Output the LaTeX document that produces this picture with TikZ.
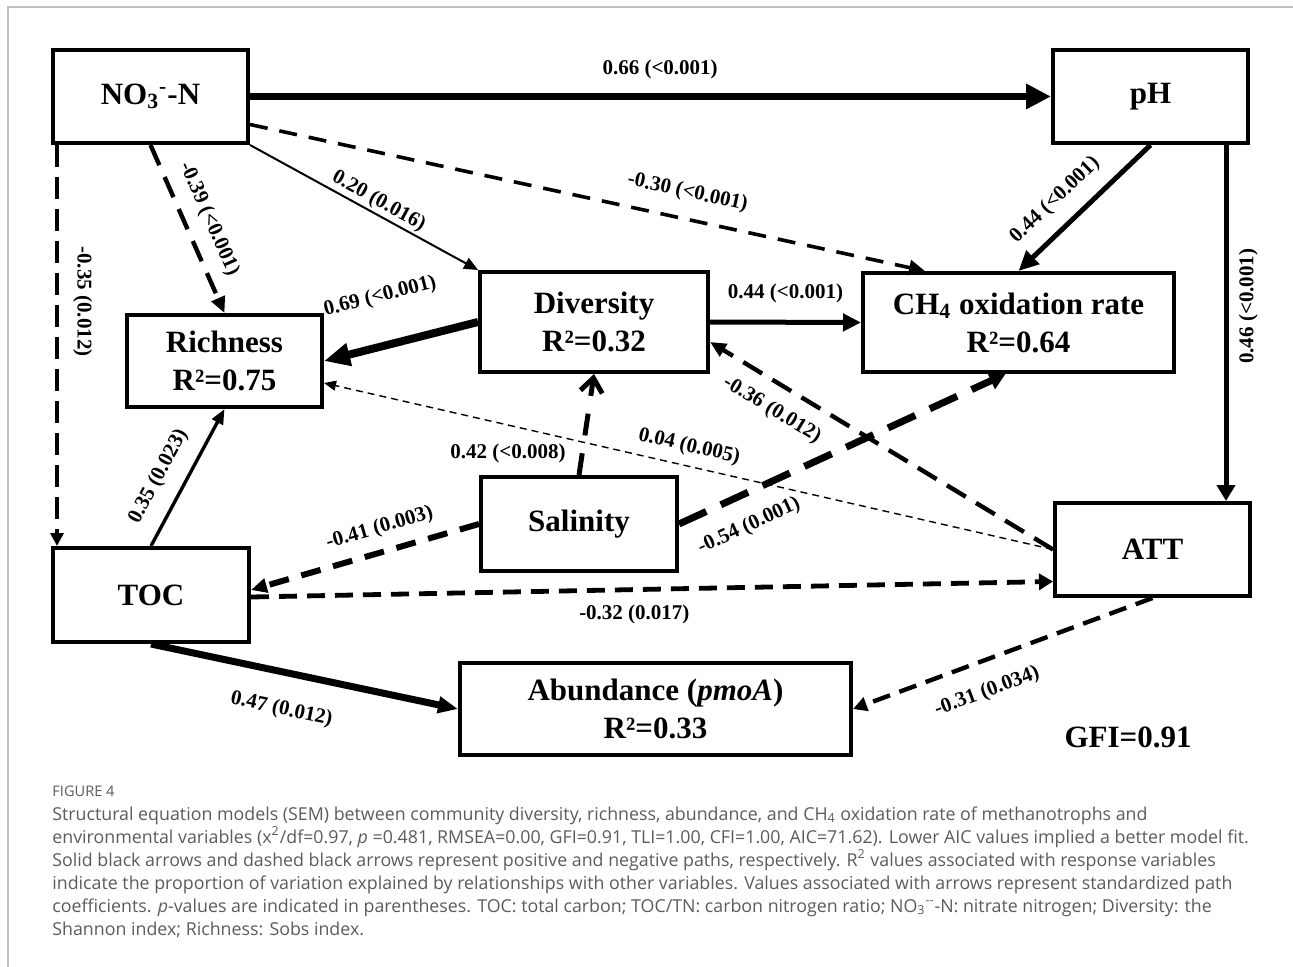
\documentclass[tikz,border=0pt]{standalone}
\usepackage{fontspec}
\setmainfont{Liberation Serif}
\newfontfamily\capfont{Open Sans}
\usetikzlibrary{arrows.meta,calc,positioning}
\definecolor{semInk}{HTML}{000000}
\definecolor{semCap}{HTML}{5B5B5B}
\definecolor{semFrame}{HTML}{C2C2C2}
\tikzset{
 sem/.style={x=.5pt,y=-.5pt,line join=miter,text=semInk},
 var/.style={rectangle,draw=semInk,fill=white,line width=2pt,inner sep=0pt,align=center,
   font=\fontsize{15.5}{19}\selectfont\bfseries,minimum width=97.5pt,minimum height=46.5pt},
 coef/.style={font=\fontsize{10.5}{12}\selectfont\bfseries,inner sep=0pt},
 solidpath/.style={draw=semInk,line width=#1},
 dashpath/.style n args={3}{draw=semInk,line width=#1,dash pattern=on #2 off #3},
 tipto/.style 2 args={-{Triangle[length=#1,width=#2]}},
 tipfrom/.style 2 args={{Triangle[length=#1,width=#2]}-},
 captext/.style={font=\capfont\fontsize{8.9}{11}\selectfont,text=semCap,anchor=base west,inner sep=0pt}
}
\begin{document}
\begin{tikzpicture}[sem]
 \useasboundingbox (0,0) rectangle (1293,967);
 \draw[semFrame,line width=1pt] (8,967) |- (1293,7);
 % variables
 \node[var] (no3) at (150.5,96.5) {NO\textsubscript{3}\textsuperscript{-}-N};
 \node[var] (ph) at (1150.5,96.5) {pH};
 \node[var,minimum height=46pt] (rich) at (224.5,361) {Richness\\R²=0.75};
 \node[var,minimum width=114pt,minimum height=50pt] (div) at (594,322) {Diversity\\R²=0.32};
 \node[var,minimum width=155.5pt,minimum height=49.5pt] (ch4) at (1018.5,322.5) {CH\textsubscript{4} oxidation rate\\R²=0.64};
 \node[var,minimum width=98pt,minimum height=47pt] (sal) at (579,524) {Salinity};
 \node[var] (att) at (1152.5,549.5) {ATT};
 \node[var,minimum width=98pt,minimum height=47pt] (toc) at (151,595) {TOC};
 \node[var,minimum width=195.5pt,minimum height=46pt] (abun) at (655.5,709) {Abundance (\textit{pmoA})\\R²=0.33};
 \node[font=\fontsize{15.5}{19}\selectfont\bfseries] (gfi) at (1128,737) {GFI=0.91};
 % paths from NO3-N
 \draw[solidpath=3.5pt,tipto={12.5pt}{12pt}] (no3.east) -- node[coef,pos=.512,above=7pt] (c1) {0.66 (<0.001)} (ph.west);
 \draw[dashpath={1.8pt}{9pt}{6pt},tipto={8pt}{7.5pt}] ($(no3.east)+(0,28)$) -- node[coef,sloped,pos=.64,above=7.5pt] (c2) {-0.30 (<0.001)} ($(ch4.north west)+(64,0)$);
 \draw[solidpath=1pt,tipto={7pt}{6pt}] (no3.south east) -- node[coef,sloped,pos=.538,above=1pt] (c3) {0.20 (0.016)} (div.north west);
 \draw[dashpath={2.2pt}{11pt}{6.5pt},tipto={8pt}{7pt}] (no3.south) -- node[coef,sloped,pos=.497,above=6pt] (c4) {-0.39 (<0.001)} (rich.north);
 \draw[dashpath={2.2pt}{11pt}{5pt},tipto={6.5pt}{6.5pt}] ($(no3.south west)+(6,0)$) -- node[coef,sloped,pos=.39,above=7pt] (c5) {-0.35 (0.012)} ($(toc.north west)+(6,0)$);
 % paths from pH
 \draw[solidpath=2.5pt,tipto={10pt}{9pt}] (ph.south) -- node[coef,sloped,pos=.587,above=7pt] (c6) {0.44 (<0.001)} (ch4.north);
 \coordinate (phx) at ($(ph.south east)+(-24,0)$);
 \draw[solidpath=2.5pt,tipfrom={8pt}{9pt}] (phx |- att.north) -- node[coef,sloped,pos=.547,below=5.2pt] (c7) {0.46 (<0.001)} (phx);
 % paths from Diversity
 \draw[solidpath=4pt,tipto={13pt}{11pt}] (div.west) -- node[coef,sloped,pos=.558,above=17.5pt] (c8) {0.69 (<0.001)} (rich.east);
 \draw[solidpath=2.5pt,tipto={9pt}{8.5pt}] (div.east) -- node[coef,pos=.5,above=8.3pt] (c9) {0.44 (<0.001)} (ch4.west);
 % paths from ATT
 \draw[dashpath={2.2pt}{11pt}{6pt},tipto={8pt}{7pt}] (att.west) -- node[coef,sloped,pos=.78,below=7.2pt] (c10) {-0.36 (0.012)} ($(div.east)+(0,20)$);
 \draw[dashpath={.7pt}{3.5pt}{2.5pt},tipto={6pt}{5pt}] (att.west) -- node[coef,sloped,pos=.505,above=4.5pt] (c11) {0.04 (0.005)} ($(rich.east)+(0,22)$);
 \draw[dashpath={2.2pt}{9pt}{5pt},tipto={7pt}{7pt}] (att.south) -- node[coef,sloped,pos=.588,below=9.4pt] (c18) {-0.31 (0.034)} (abun.east);
 % paths from Salinity
 \draw[dashpath={2.5pt}{11pt}{9pt},-{Straight Barb[length=7pt,width=11pt]}] (sal.north) -- node[coef,pos=.21,left=7pt] (c12) {0.42 (<0.008)} (div.south);
 \draw[dashpath={3.5pt}{15pt}{8pt},tipto={8pt}{9pt}] (sal.east) -- node[coef,sloped,pos=.175,below=9pt] (c13) {-0.54 (0.001)} ($(ch4.south)+(-13,0)$);
 \draw[dashpath={3pt}{10pt}{6.5pt},tipto={8pt}{7pt}] (sal.west) -- node[coef,sloped,pos=.407,above=5.5pt] (c14) {-0.41 (0.003)} ($(toc.east)+(0,-5)$);
 % paths from TOC
 \draw[dashpath={2.4pt}{9pt}{5pt},tipto={7pt}{8pt}] ($(toc.east)+(0,2)$) -- node[coef,pos=.478,below=6.5pt] (c15) {-0.32 (0.017)} ($(att.west)+(0,32)$);
 \draw[solidpath=1.7pt,tipto={7.5pt}{6pt}] (toc.north) -- node[coef,sloped,pos=.416,above=7.5pt] (c16) {0.35 (0.023)} (rich.south);
 \draw[solidpath=3.5pt,tipto={10pt}{8pt}] (toc.south) -- node[coef,sloped,pos=.45,below=12pt] (c17) {0.47 (0.012)} (abun.west);
 % caption
 \node[captext,font=\capfont\fontsize{7.3}{9}\selectfont] (capfig) at (52,796) {FIGURE 4};
 \node[captext] (capA) at (52,820) {Structural equation models (SEM) between community diversity, richness, abundance, and CH\textsubscript{4} oxidation rate of methanotrophs and};
 \node[captext] (capB) at (52,843) {environmental variables (x\textsuperscript{2}/df=0.97, \textit{p} =0.481, RMSEA=0.00, GFI=0.91, TLI=1.00, CFI=1.00, AIC=71.62). Lower AIC values implied a better model fit.};
 \node[captext] (capC) at (52,866) {Solid black arrows and dashed black arrows represent positive and negative paths, respectively. R\textsuperscript{2} values associated with response variables};
 \node[captext] (capD) at (52,889) {indicate the proportion of variation explained by relationships with other variables. Values associated with arrows represent standardized path};
 \node[captext] (capE) at (52,912) {coefficients. \textit{p}-values are indicated in parentheses. TOC: total carbon; TOC/TN: carbon nitrogen ratio; NO\textsubscript{3}\textsuperscript{--}-N: nitrate nitrogen; Diversity: the};
 \node[captext] (capF) at (52,935) {Shannon index; Richness: Sobs index.};
\end{tikzpicture}
\end{document}
